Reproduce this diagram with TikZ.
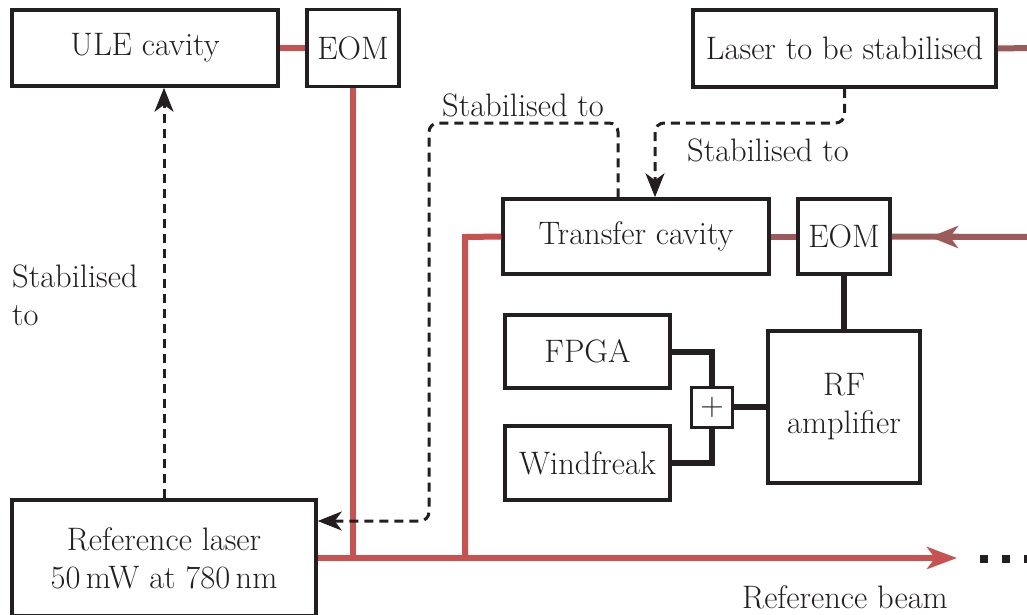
\documentclass[tikz,border=0pt]{standalone}
\usetikzlibrary{arrows.meta}
\definecolor{beamred}{HTML}{C85250}
\definecolor{beambrown}{HTML}{9C5B5B}
\definecolor{ink}{HTML}{231F20}
\begin{document}
\begin{tikzpicture}[x=1pt,y=-1pt,
  every node/.style={font=\fontsize{32.5}{38}\selectfont, text=ink},
  box/.style={draw=ink, line width=3.5pt, inner sep=0pt, align=center},
  redbeam/.style={draw=beamred, line width=6pt},
  brownbeam/.style={draw=beambrown, line width=6pt},
  wire/.style={draw=ink, line width=6pt},
  dashlink/.style={draw=ink, line width=3pt, dash pattern=on 9pt off 6pt, rounded corners=9pt},
  dtip/.style={-{Stealth[length=24pt, width=19pt, inset=7pt]}},
  lbl/.style={inner sep=0pt}
]
\clip (0,0) rectangle (1027,614);
\fill[white] (0,0) rectangle (1027,614);

% boxes
\node[box, minimum width=266, minimum height=76] (ule) at (145,48) {ULE cavity};
\node[box, minimum width=92, minimum height=77] (eomA) at (353,48) {EOM};
\node[box, minimum width=303, minimum height=77] (lts) at (844.5,48.5) {Laser to be stabilised};
\node[box, minimum width=266, minimum height=75] (tc) at (636,236.5) {Transfer cavity};
\node[box, minimum width=92, minimum height=75] (eomB) at (844,236.5) {EOM};
\node[box, minimum width=165, minimum height=73] (fpga) at (587.5,351.5) {FPGA};
\node[box, minimum width=165, minimum height=74] (wf) at (587.5,463) {Windfreak};
\node[box, minimum width=41, minimum height=40, line width=3pt] (plus) at (712,407) {+};
\node[box, minimum width=152, minimum height=152] (rf) at (844,407) {RF\\amplifier};
\node[box, minimum width=304, minimum height=116] (ref) at (164,558) {Reference laser\\50\,mW at 780\,nm};

% coordinates
\coordinate (beamend) at (957,558);
\coordinate (ltsout) at (1030,48);
\coordinate (eomBin) at (1030,237);
\coordinate (eomBtip) at (930,237);
\coordinate (tcturn) at (465,237);
\coordinate (dA) at (655,123);
\coordinate (dB1) at (618,123);
\coordinate (dB2) at (429,123);
\coordinate (dB3) at (429,521);

% red beams
\draw[redbeam] (ule.east) -- (eomA.west);
\draw[redbeam] (eomA.south) -- (eomA.south |- beamend);
\draw[redbeam] (tc.west) -- (tcturn) -- (tcturn |- beamend);
\draw[redbeam, -{Stealth[length=30pt, width=22pt, inset=8pt]}] (ref.east) -- (beamend);

% brown beams
\draw[brownbeam] (lts.east) -- (ltsout);
\draw[brownbeam] (tc.east) -- (eomB.west);
\draw[brownbeam] (eomBin) -- (eomB.east);
\draw[brownbeam, -{Stealth[length=28pt, width=22pt, inset=8pt]}] (eomBin) -- (eomBtip);

% dots
\draw[ink, line width=8pt, dash pattern=on 8pt off 14pt] (980,559) -- (1040,559);

% electrical wires
\draw[wire] (fpga.east) -| (plus.north);
\draw[wire] (wf.east) -| (plus.south);
\draw[wire] (plus.east) -- (rf.west);
\draw[wire] (eomB.south) -- (rf.north);

% dashed stabilisation links
\draw[dashlink, dtip] (ref.north) -- (ref.north |- ule.south);
\draw[dashlink, dtip] (lts.south) |- (dA) -- (dA |- tc.north);
\draw[dashlink, dtip] (dB1 |- tc.north) -- (dB1) -- (dB2) -- (dB3) -- (ref.east |- dB3);

% labels
\node[lbl] (l1) at (523,105) {Stabilised to};
\node[lbl] (l2) at (768,150) {Stabilised to};
\node[lbl, align=left, anchor=west] (l3) at (12,295) {Stabilised\\to};
\node[lbl] (l4) at (845,597) {Reference beam};
\end{tikzpicture}
\end{document}
